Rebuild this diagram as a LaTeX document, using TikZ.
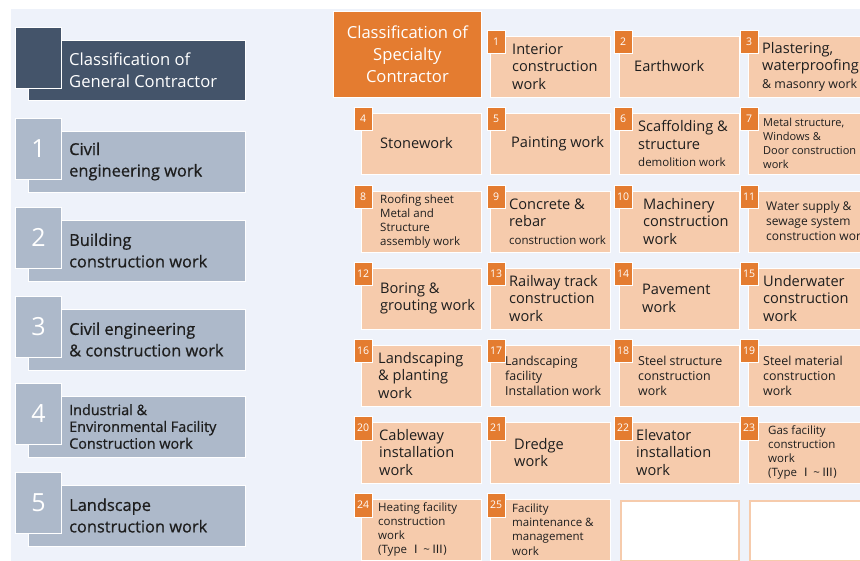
\documentclass[tikz,border=0pt]{standalone}
\usepackage{fontspec}
\setmainfont{Open Sans}
\newfontfamily\gcfont{Open Sans}[FakeBold=0.7]
\newfontfamily\cjkfont{Noto Sans CJK KR}
\definecolor{panelbg}{HTML}{EEF2FA}
\definecolor{gcdark}{HTML}{44546A}
\definecolor{gcgray}{HTML}{ADB9CA}
\definecolor{scorange}{HTML}{E47C30}
\definecolor{scpeach}{HTML}{F6CBAC}
\definecolor{txtdark}{HTML}{1E1E1E}
\newcommand\fbig{\fontsize{14.6}{17.5}\selectfont}
\newcommand\fmid{\fontsize{12.4}{15}\selectfont}
\newcommand\fsm{\fontsize{11.5}{14.2}\selectfont}
\newcommand\fxs{\fontsize{11}{14}\selectfont}
\newcommand\fgc{\gcfont\fontsize{16.4}{21.5}\selectfont}
\newcommand\romtype{(Type {\cjkfont Ⅰ}\,\textasciitilde\,{\cjkfont Ⅲ})}
\tikzset{
  gcbox/.style={rectangle, draw=white, line width=0.8pt, inner sep=0pt, anchor=north west},
  gcnum/.style={text=white, font=\fontsize{25}{28}\selectfont, inner sep=0pt},
  gctext/.style={anchor=west, align=left, inner sep=0pt, text=txtdark},
  scbox/.style={rectangle, fill=scpeach, draw=white, line width=0.8pt, inner sep=0pt, anchor=north west, minimum width=120pt, minimum height=61pt},
  scblank/.style={rectangle, fill=white, draw=scpeach, line width=2pt, inner sep=0pt, anchor=north west, minimum width=118pt, minimum height=60pt},
  scbadge/.style={rectangle, fill=scorange, draw=white, line width=0.8pt, inner sep=0pt, anchor=north west, minimum width=17.5pt, minimum height=23.5pt, text=white, font=\fontsize{10.5}{12}\selectfont},
  sctext/.style={anchor=west, align=left, inner sep=0pt, text=txtdark},
}
\newcommand\gcitem[5]{%
  \node[gcbox, fill=gcgray, minimum width=217pt, minimum height=61pt] (#1rect) at (28,#2+13) {};
  \node[gcbox, fill=gcgray, minimum width=46pt, minimum height=61pt] (#1sq) at (15,#2) {};
  \node[gcnum] (#1num) at (#1sq.center) {#3};
  \node[gctext, font=#4] (#1txt) at (69,#2+43.5) {#5};
}
\newcommand\scitem[8]{%
  \node[scbox] (#1box) at (#2,#3) {};
  \node[scbadge] (#1badge) at (#4,#3-6) {#5};
  \node[sctext, font=#7] (#1txt) at (#2+#6,#3+30.5) {#8};
}
\begin{document}
\begin{tikzpicture}[x=1pt,y=-1pt]
\useasboundingbox (0,0) rectangle (860,561);
\fill[panelbg] (11,9) rectangle (860,561);
% general contractor header
\node[gcbox, fill=gcdark, minimum width=217pt, minimum height=60pt] (gchrect) at (28,40) {};
\node[gcbox, fill=gcdark, minimum width=46pt, minimum height=61pt] (gchsq) at (15,27) {};
\node[gctext, text=white, font=\fontsize{16.6}{22}\selectfont] (gchtxt) at (69,70.5) {Classification of\\General Contractor};
% general items
\gcitem{g1}{118}{1}{\fgc}{Civil\\engineering work}
\gcitem{g2}{207}{2}{\fgc}{Building\\construction work}
\gcitem{g3}{296}{3}{\fgc}{Civil engineering\\ \& construction work}
\gcitem{g4}{383}{4}{\gcfont\fontsize{14.4}{16.8}\selectfont}{Industrial \&\\Environmental Facility\\Construction work}
\gcitem{g5}{472}{5}{\fgc}{Landscape\\construction work}
% specialty header
\node[rectangle, fill=scorange, draw=white, line width=0.8pt, anchor=north west, minimum width=148pt, minimum height=86pt, inner sep=0pt] (schead) at (333,11) {};
\node[align=center, text=white, font=\fontsize{16.6}{22}\selectfont, inner sep=0pt] (schtxt) at (schead.center) {Classification of\\Specialty\\Contractor};
% row 1
\scitem{s1}{490}{36}{487}{1}{22}{\fbig}{Interior\\construction\\work}
\scitem{s2}{619}{36}{614}{2}{15}{\fbig}{Earthwork}
\scitem{s3}{748}{36}{740}{3}{14}{\fbig}{Plastering,\\waterproofing\\\fmid \& masonry work}
% row 2
\scitem{s4}{361}{113}{354}{4}{19}{\fbig}{Stonework}
\scitem{s5}{490}{113}{487}{5}{21}{\fbig}{Painting work}
\scitem{s6}{619}{113}{614}{6}{19}{\fbig}{Scaffolding \&\\structure\\\fsm demolition work}
\scitem{s7}{748}{113}{740}{7}{15}{\fxs}{Metal structure,\\Windows \&\\Door construction\\work}
% row 3
\scitem{s8}{361}{191}{354}{8}{19}{\fsm}{Roofing sheet\\Metal and\\Structure\\assembly work}
\scitem{s9}{490}{191}{487}{9}{19}{\fbig}{Concrete \&\\rebar\\\fsm construction work}
\scitem{s10}{619}{191}{614}{10}{24}{\fbig}{Machinery\\construction\\work}
\scitem{s11}{748}{191}{740}{11}{18}{\fontsize{12}{15}\selectfont}{Water supply \&\\sewage system\\construction work}
% row 4
\scitem{s12}{361}{268}{354}{12}{19}{\fbig}{Boring \&\\grouting work}
\scitem{s13}{490}{268}{487}{13}{19}{\fbig}{Railway track\\construction\\work}
\scitem{s14}{619}{268}{614}{14}{23}{\fbig}{Pavement\\work}
\scitem{s15}{748}{268}{740}{15}{15}{\fbig}{Underwater\\construction\\work}
% row 5
\scitem{s16}{361}{345}{354}{16}{17}{\fbig}{Landscaping\\\& planting\\work}
\scitem{s17}{490}{345}{487}{17}{15}{\fmid}{Landscaping\\facility\\Installation work}
\scitem{s18}{619}{345}{614}{18}{19}{\fmid}{Steel structure\\construction\\work}
\scitem{s19}{748}{345}{740}{19}{15}{\fmid}{Steel material\\construction\\work}
% row 6
\scitem{s20}{361}{422}{354}{20}{18}{\fbig}{Cableway\\installation\\work}
\scitem{s21}{490}{422}{487}{21}{24}{\fbig}{Dredge\\work}
\scitem{s22}{619}{422}{614}{22}{17}{\fbig}{Elevator\\installation\\work}
\scitem{s23}{748}{422}{740}{23}{20}{\fsm}{Gas facility\\construction\\work\\\romtype}
% row 7
\scitem{s24}{361}{499}{354}{24}{17}{\fsm}{Heating facility\\construction\\work\\\romtype}
\scitem{s25}{490}{499}{487}{25}{22}{\fsm}{Facility\\maintenance \&\\management\\work}
\node[scblank] (blank1) at (620,500) {};
\node[scblank] (blank2) at (749,500) {};
\end{tikzpicture}
\end{document}
